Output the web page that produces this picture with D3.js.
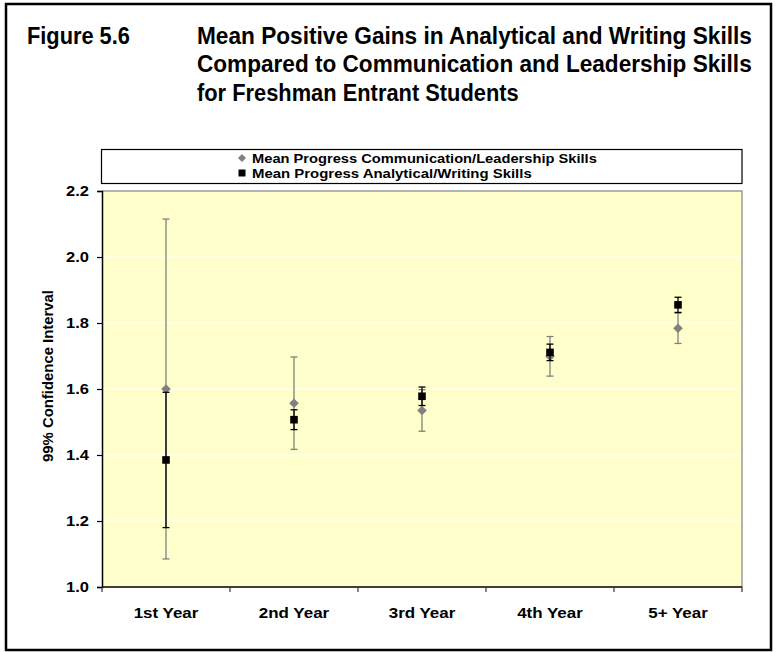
<!DOCTYPE html>
<html>
<head>
<meta charset="utf-8">
<script src="https://cdn.jsdelivr.net/npm/d3@7"></script>
<style>
html,body{margin:0;padding:0;background:#fff;}
svg{display:block;}
</style>
</head>
<body>
<svg id="chart" width="777" height="652"></svg>
<script>
const categories = ["1st Year", "2nd Year", "3rd Year", "4th Year", "5+ Year"];
const commMean = [1.600, 1.557, 1.535, 1.699, 1.784];
const commErr  = [0.515, 0.140, 0.063, 0.060, 0.046];
const analMean = [1.385, 1.507, 1.578, 1.711, 1.855];
const analErr  = [0.205, 0.030, 0.028, 0.025, 0.023];
const yTicks = [1.0, 1.2, 1.4, 1.6, 1.8, 2.0, 2.2];
const titleLeft = "Figure 5.6";
const titleLines = ["Mean Positive Gains in Analytical and Writing Skills",
                    "Compared to Communication and Leadership Skills",
                    "for Freshman Entrant Students"];
const legendLabels = ["Mean Progress Communication/Leadership Skills",
                      "Mean Progress Analytical/Writing Skills"];
const yTitle = "99% Confidence Interval";

const svg = d3.select("#chart");
const FONT = "'Liberation Sans', Arial, sans-serif";
const NARROW = "'Liberation Sans Narrow', 'Arial Narrow', 'Liberation Sans', Arial, sans-serif";

// place a text at (px,py) and scale it horizontally to width w
function placeFit(g, str, px, py, w) {
  const t = g.append("text").attr("x", 0).attr("y", 0).text(str);
  const n = t.node().getComputedTextLength();
  t.attr("transform", `translate(${px},${py}) scale(${w / n},1)`);
  return t;
}
function stretch(sel, f) {
  sel.each(function () {
    const n = this.getComputedTextLength();
    d3.select(this).attr("textLength", n * f).attr("lengthAdjust", "spacingAndGlyphs");
  });
}

// outer frame
svg.append("rect").attr("x", 6).attr("y", 4).attr("width", 765).attr("height", 646)
  .attr("fill", "#fff").attr("stroke", "#000").attr("stroke-width", 2.5);

// title
const tg = svg.append("g").attr("font-family", NARROW).attr("font-weight", "bold")
  .attr("font-size", 24).attr("fill", "#000");
placeFit(tg, titleLeft, 27, 44, 103);
const tw = [555, 555, 322];
const tb = [44, 72, 101];
titleLines.forEach((t, i) => placeFit(tg, t, 197, tb[i], tw[i]));

// scales
const x = d3.scaleBand().domain(categories).range([102, 742]);
const y = d3.scaleLinear().domain([1.0, 2.2]).range([587, 191]);

// plot area
svg.append("rect").attr("x", 102).attr("y", y(2.2)).attr("width", 640)
  .attr("height", y(1.0) - y(2.2)).attr("fill", "#FFFFCC");

// gridlines
svg.append("g").selectAll("line").data(yTicks.filter(d => d > 1.0 && d < 2.2)).join("line")
  .attr("x1", 102).attr("x2", 742).attr("y1", d => y(d)).attr("y2", d => y(d))
  .attr("stroke", "#fff").attr("stroke-width", 1);

// plot border top/right (gray)
svg.append("path").attr("d", `M102,${y(2.2)}H742V${y(1.0)}`)
  .attr("fill", "none").attr("stroke", "#9a9a9a").attr("stroke-width", 1.5);

// y axis
const yAxis = svg.append("g").attr("transform", "translate(102,0)")
  .call(d3.axisLeft(y).tickValues(yTicks).tickFormat(d3.format(".1f")).tickSize(5).tickPadding(8));
yAxis.select(".domain").attr("stroke", "#000").attr("stroke-width", 1.5);
yAxis.selectAll(".tick line").attr("stroke", "#000").attr("stroke-width", 1.2);
yAxis.selectAll("text").attr("font-family", FONT).attr("font-weight", "bold")
  .attr("font-size", 15).attr("fill", "#000").call(stretch, 1.1);

// x axis
const xAxis = svg.append("g").attr("transform", `translate(0,${y(1.0)})`)
  .call(d3.axisBottom(x).tickSize(0).tickPadding(20));
xAxis.select(".domain").remove();
xAxis.selectAll("text").attr("font-family", FONT).attr("font-weight", "bold")
  .attr("font-size", 15).attr("fill", "#000").call(stretch, 1.13);
svg.append("line").attr("x1", 102).attr("x2", 742).attr("y1", y(1.0)).attr("y2", y(1.0))
  .attr("stroke", "#000").attr("stroke-width", 1.5);
const edges = categories.map(c => x(c)).concat([x(categories[categories.length - 1]) + x.bandwidth()]);
svg.append("g").selectAll("line").data(edges).join("line")
  .attr("x1", d => d).attr("x2", d => d).attr("y1", y(1.0)).attr("y2", y(1.0) + 5)
  .attr("stroke", "#333").attr("stroke-width", 1.2);

// y title
const yt = svg.append("text").attr("transform", `translate(53,376) rotate(-90)`)
  .attr("text-anchor", "middle").attr("font-family", FONT).attr("font-weight", "bold")
  .attr("font-size", 15).attr("fill", "#000").text(yTitle);
yt.attr("textLength", 172).attr("lengthAdjust", "spacingAndGlyphs");

// series drawing
function drawSeries(means, errs, color, shape) {
  const g = svg.append("g");
  const cx = i => x(categories[i]) + x.bandwidth() / 2;
  const idx = d3.range(categories.length);
  g.selectAll("line.v").data(idx).join("line").attr("class", "v")
    .attr("x1", cx).attr("x2", cx)
    .attr("y1", i => y(means[i] - errs[i])).attr("y2", i => y(means[i] + errs[i]))
    .attr("stroke", color).attr("stroke-width", 1.3);
  ["lo", "hi"].forEach(k => {
    g.selectAll("line." + k).data(idx).join("line").attr("class", k)
      .attr("x1", i => cx(i) - 3.5).attr("x2", i => cx(i) + 3.5)
      .attr("y1", i => y(k === "lo" ? means[i] - errs[i] : means[i] + errs[i]))
      .attr("y2", i => y(k === "lo" ? means[i] - errs[i] : means[i] + errs[i]))
      .attr("stroke", color).attr("stroke-width", 1.3);
  });
  g.selectAll("path.m").data(idx).join("path").attr("class", "m")
    .attr("transform", i => `translate(${cx(i)},${y(means[i])})`)
    .attr("d", shape === "diamond" ? "M0,-4.8L4.8,0L0,4.8L-4.8,0Z" : "M-3.8,-3.8H3.8V3.8H-3.8Z")
    .attr("fill", color);
}
drawSeries(commMean, commErr, "#808080", "diamond");
drawSeries(analMean, analErr, "#000000", "square");

// legend
svg.append("rect").attr("x", 101.5).attr("y", 149.5).attr("width", 640.5).attr("height", 34)
  .attr("fill", "#fff").attr("stroke", "#000").attr("stroke-width", 1.2);
const lg = svg.append("g").attr("font-family", FONT).attr("font-weight", "bold")
  .attr("font-size", 12.5).attr("fill", "#000");
lg.append("path").attr("transform", "translate(242,158)").attr("d", "M0,-4L4,0L0,4L-4,0Z").attr("fill", "#808080");
lg.append("path").attr("transform", "translate(242,173)").attr("d", "M-3.5,-3.5H3.5V3.5H-3.5Z").attr("fill", "#000");
const lw = [345, 280];
legendLabels.forEach((t, i) => placeFit(lg, t, 252, 162.5 + i * 15, lw[i]));
</script>
</body>
</html>
